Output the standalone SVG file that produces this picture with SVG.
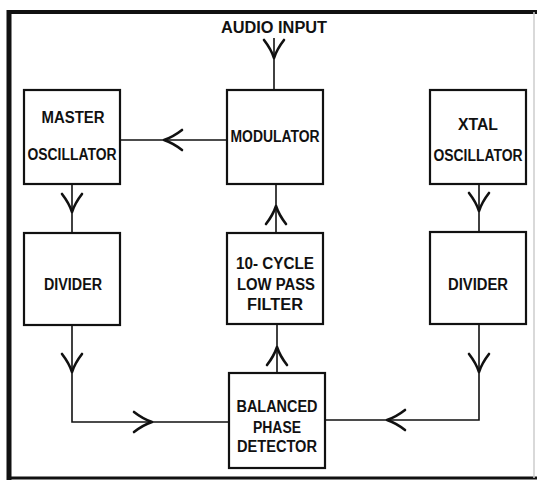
<svg xmlns="http://www.w3.org/2000/svg" width="537" height="482" viewBox="0 0 537 482">
<style>
.box{fill:none;stroke:#111;stroke-width:2.2}
.ln{fill:none;stroke:#111;stroke-width:1.6}
.frame{stroke:#111;fill:none}
.ah{fill:none;stroke:#111;stroke-width:2.6;stroke-linecap:round;stroke-linejoin:round}
text{font-family:"Liberation Sans",Arial,sans-serif;font-weight:bold;font-size:16px;fill:#111;text-anchor:middle}
</style>
<defs>
<path id="chev" class="ah" d="M-18,-10 Q-9,-3 0,0 Q-9,3 -18,10"/>
</defs>
<rect width="537" height="482" fill="#ffffff"/>
<g id="frame">
<line class="frame" x1="7" y1="12" x2="537" y2="12" stroke-width="4"/>
<line class="frame" x1="9" y1="10" x2="9" y2="480" stroke-width="5"/>
<line class="frame" x1="7" y1="478" x2="537" y2="478" stroke-width="3"/>
<line x1="534" y1="12" x2="534" y2="478" stroke="#ccc" stroke-width="1.5"/>
</g>
<g id="audio-input">
<text x="274" y="33" textLength="106" lengthAdjust="spacingAndGlyphs">AUDIO INPUT</text>
</g>
<g id="master-oscillator">
<rect class="box" x="24" y="90" width="96" height="94"/>
<text x="73" y="123" textLength="63" lengthAdjust="spacingAndGlyphs">MASTER</text>
<text x="72" y="160" textLength="89" lengthAdjust="spacingAndGlyphs">OSCILLATOR</text>
</g>
<g id="modulator">
<rect class="box" x="227" y="90" width="96" height="94"/>
<text x="275" y="142" textLength="89" lengthAdjust="spacingAndGlyphs">MODULATOR</text>
</g>
<g id="xtal-oscillator">
<rect class="box" x="430" y="90" width="96" height="94"/>
<text x="478" y="130" textLength="40" lengthAdjust="spacingAndGlyphs">XTAL</text>
<text x="478" y="161" textLength="89" lengthAdjust="spacingAndGlyphs">OSCILLATOR</text>
</g>
<g id="divider-left">
<rect class="box" x="24" y="233" width="96" height="92"/>
<text x="73" y="290" textLength="58" lengthAdjust="spacingAndGlyphs">DIVIDER</text>
</g>
<g id="low-pass-filter">
<rect class="box" x="227" y="233" width="96" height="91"/>
<text x="275" y="269" textLength="78" lengthAdjust="spacingAndGlyphs">10- CYCLE</text>
<text x="276" y="290" textLength="78" lengthAdjust="spacingAndGlyphs">LOW PASS</text>
<text x="275" y="310" textLength="56" lengthAdjust="spacingAndGlyphs">FILTER</text>
</g>
<g id="divider-right">
<rect class="box" x="430" y="232" width="96" height="92"/>
<text x="478" y="290" textLength="60" lengthAdjust="spacingAndGlyphs">DIVIDER</text>
</g>
<g id="balanced-phase-detector">
<rect class="box" x="229" y="373" width="96" height="95"/>
<text x="277" y="412" textLength="81" lengthAdjust="spacingAndGlyphs">BALANCED</text>
<text x="277" y="433" textLength="48" lengthAdjust="spacingAndGlyphs">PHASE</text>
<text x="277" y="452" textLength="80" lengthAdjust="spacingAndGlyphs">DETECTOR</text>
</g>
<g id="connectors">
<line class="ln" x1="274" y1="38" x2="274" y2="90"/>
<use href="#chev" transform="translate(274,58) rotate(90)"/>
<line class="ln" x1="227" y1="140" x2="120" y2="140"/>
<use href="#chev" transform="translate(164,140) rotate(180)"/>
<line class="ln" x1="72" y1="184" x2="72" y2="233"/>
<use href="#chev" transform="translate(72,212) rotate(90)"/>
<line class="ln" x1="276" y1="233" x2="276" y2="184"/>
<use href="#chev" transform="translate(276,206) rotate(-90)"/>
<line class="ln" x1="479" y1="184" x2="479" y2="232"/>
<use href="#chev" transform="translate(479,211) rotate(90)"/>
<polyline class="ln" points="72,325 72,422 229,422"/>
<use href="#chev" transform="translate(72,372) rotate(90)"/>
<use href="#chev" transform="translate(152,422)"/>
<polyline class="ln" points="479,324 479,420 325,420"/>
<use href="#chev" transform="translate(479,372) rotate(90)"/>
<use href="#chev" transform="translate(387,420) rotate(180)"/>
<line class="ln" x1="277" y1="373" x2="277" y2="324"/>
<use href="#chev" transform="translate(277,347) rotate(-90)"/>
</g>
</svg>
